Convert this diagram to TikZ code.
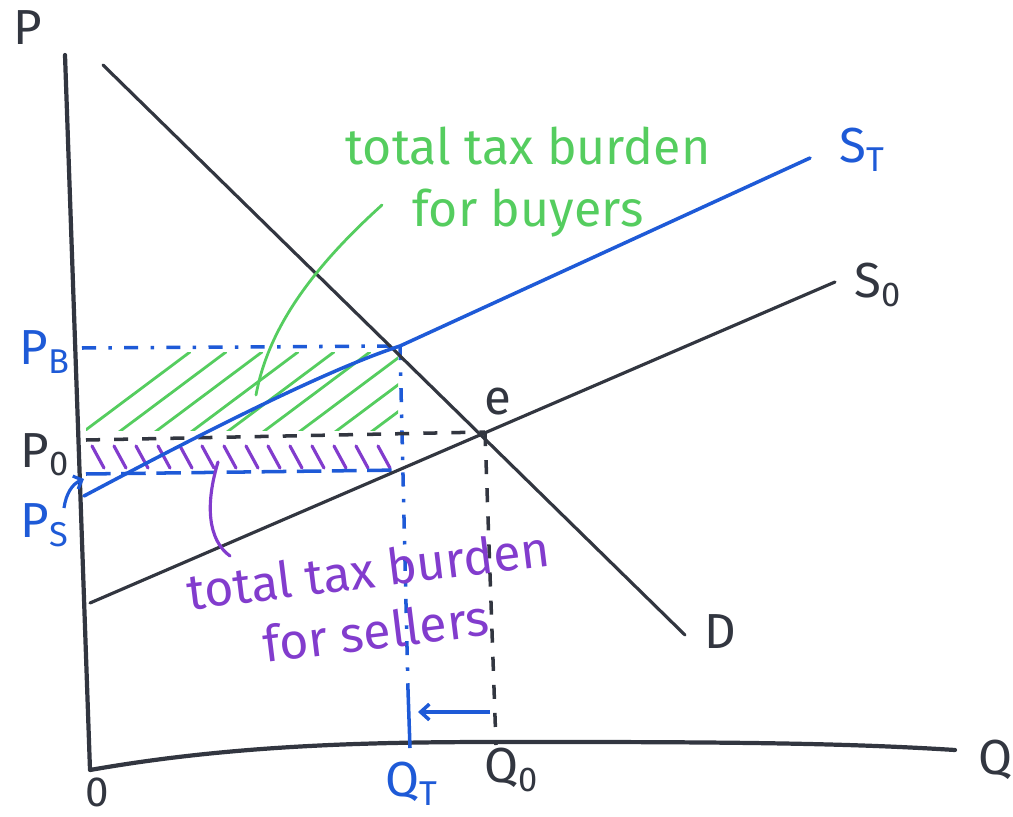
\documentclass[tikz,border=0pt]{standalone}
\usepackage{fontspec}
\setmainfont{Fira Sans}
\usetikzlibrary{arrows.meta}
\definecolor{ink}{RGB}{50,54,64}
\definecolor{bl}{RGB}{30,90,215}
\definecolor{gr}{RGB}{85,205,95}
\definecolor{pu}{RGB}{130,60,205}
\tikzset{
  axis/.style={ink,line width=2.4pt,line cap=round,line join=round},
  curve/.style={ink,line width=1.8pt,line cap=round},
  bcurve/.style={bl,line width=2pt,line cap=round},
  lab/.style={font=\fontsize{28}{32}\selectfont,inner sep=0pt},
  note/.style={font=\fontsize{28.5}{35}\selectfont,inner sep=0pt,align=center},
  bdash/.style={bl,line width=2pt,dash pattern=on 8pt off 7pt on 2pt off 7pt},
  kdash/.style={ink,line width=2pt,dash pattern=on 8pt off 8pt},
  hatchg/.style={gr,line width=1.6pt,line cap=round},
  hatchp/.style={pu,line width=1.8pt,line cap=round},
}
\begin{document}
\begin{tikzpicture}[x=0.02cm,y=-0.02cm]
\useasboundingbox (0,0) rectangle (1013,817);
% coordinates
\coordinate (Ptop) at (65,55);
\coordinate (O) at (90,770);
\coordinate (Qend) at (955,750);
\coordinate (Dtop) at (103,65);
\coordinate (Dbot) at (685,635);
\coordinate (S0a) at (90,603);
\coordinate (S0b) at (835,282);
\coordinate (STa) at (84,496);
\coordinate (B) at (400,346);
\coordinate (STb) at (810,158);
\coordinate (E) at (485,432);
\coordinate (PBl) at (82,348);
\coordinate (P0l) at (86,440);
\coordinate (PSl) at (86,474);
\coordinate (PSr) at (402,470);
\coordinate (QTb) at (410,748);
\coordinate (QTm) at (408,690);
\coordinate (Q0b) at (496,745);
\coordinate (Ar1) at (490,712);
\coordinate (Ar2) at (418,712);

% hatching: buyers (green)
\begin{scope}
\clip (86,352) rectangle (398,430);
\foreach \i in {0,...,9} {
  \draw[hatchg] (75+36*\i,438) -- (75+36*\i+115,352);
}
\end{scope}
% hatching: sellers (purple)
\foreach \i in {0,...,13} {
  \draw[hatchp] (92+22*\i,446) -- (104+22*\i,468);
}

% axes
\draw[axis] (Ptop) -- (O) .. controls (260,740) and (420,742) .. (560,742)
  .. controls (760,742) and (860,744) .. (Qend);

% guide lines
\draw[bdash] (PBl) -- (B);
\draw[bdash] (B) -- (QTm);
\draw[bl,line width=2pt] (QTm) -- (QTb);
\draw[kdash] (P0l) -- (E);
\draw[kdash] (E) -- (Q0b);
\draw[bl,line width=2pt,dash pattern=on 14pt off 6pt] (PSl) -- (PSr);

% curves
\draw[curve] (Dtop) -- (Dbot);
\draw[curve] (S0a) -- (S0b);
\draw[bcurve] (STa) .. controls (180,445) and (320,372) .. (B) -- (STb);

% arrow Q0 -> QT
\draw[bl,line width=2pt,-{Straight Barb[length=5pt,width=9pt]}] (Ar1) -- (Ar2);

% leaders
\draw[gr,line width=1.6pt,line cap=round] (382,205) .. controls (310,270) and (268,330) .. (256,395);
\draw[pu,line width=1.8pt,line cap=round] (218,462) .. controls (205,505) and (208,540) .. (230,556);
\draw[bl,line width=1.8pt,-{Straight Barb[length=4pt,width=8pt]}] (64,508) .. controls (66,494) and (72,484) .. (84,479);

% labels
\node[lab,ink] (lP) at (28,28) {P};
\node[lab,ink] (lQ) at (995,760) {Q};
\node[lab,ink,font=\fontsize{24}{28}\selectfont] (lO) at (97,792) {0};
\node[lab,bl] (lPB) at (45,352) {P\textsubscript{B}};
\node[lab,ink] (lP0) at (45,455) {P\textsubscript{0}};
\node[lab,bl] (lPS) at (45,525) {P\textsubscript{S}};
\node[lab,ink] (le) at (498,402) {e};
\node[lab,bl] (lST) at (862,150) {S\textsubscript{T}};
\node[lab,ink] (lS0) at (878,285) {S\textsubscript{0}};
\node[lab,ink] (lD) at (720,632) {D};
\node[lab,bl] (lQT) at (412,784) {Q\textsubscript{T}};
\node[lab,ink] (lQ0) at (512,770) {Q\textsubscript{0}};

\node[note,gr] (nb) at (528,182) {total tax burden\\for buyers};
\node[note,pu,rotate=7] (ns) at (372,600) {total tax burden\\for sellers};
\end{tikzpicture}
\end{document}
